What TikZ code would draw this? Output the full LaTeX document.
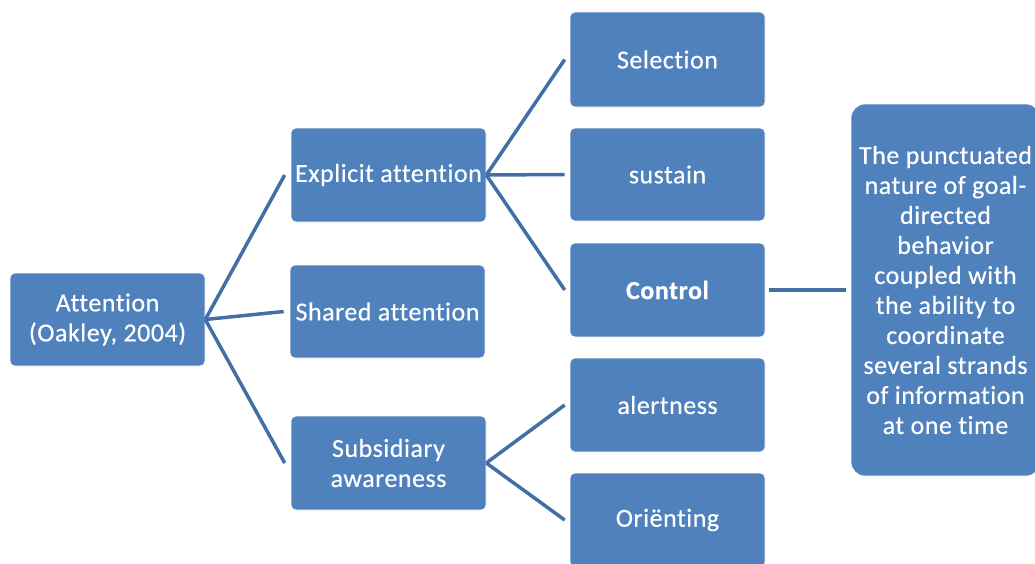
\documentclass[tikz,border=0pt]{standalone}
\usepackage{fontspec}
\setmainfont{Carlito}[Ligatures=NoCommon, LetterSpace=2, UprightFeatures={FakeBold=0.4}, BoldFeatures={FakeBold=0.6}]
\definecolor{boxblue}{HTML}{4F81BD}
\definecolor{lineblue}{HTML}{4270A6}
\begin{document}
\begin{tikzpicture}[x=1pt,y=-1pt,
  box/.style={draw=white, line width=0.6pt, fill=boxblue, rounded corners=5pt, minimum width=195pt, inner sep=0pt,
    text=white, align=center, font=\fontsize{26}{30}\selectfont},
  conn/.style={draw=lineblue, line width=3.5pt}]
\useasboundingbox (0,0) rectangle (1035,563);
\node[box, minimum height=93pt] (att) at (107.5,319.5) {Attention\\(Oakley, 2004)};
\node[box, minimum height=94pt] (exp) at (388.5,175) {Explicit attention};
\node[box, minimum height=93pt] (sha) at (387.5,311.5) {Shared attention};
\node[box, minimum height=94pt] (sub) at (388.5,463) {Subsidiary\\awareness};
\node[box, minimum height=95pt] (sel) at (667.5,59.5) {Selection};
\node[box, minimum height=93pt] (sus) at (667.5,174.5) {sustain};
\node[box, minimum height=94pt] (con) at (667.5,290) {\bfseries Control};
\node[box, minimum height=94pt] (ale) at (667.5,405) {alertness};
\node[box, minimum height=94pt] (ori) at (667.5,520) {Oriënting};
\node[box, minimum width=189pt, minimum height=372pt, rounded corners=14pt] (txt) at (945.5,290)
  {The punctuated\\nature of goal-\\directed\\behavior\\coupled with\\the ability to\\coordinate\\several strands\\of information\\at one time};
\draw[conn] (att.east) -- ([xshift=-6pt]exp.west);
\draw[conn] (att.east) -- ([xshift=-6pt]sha.west);
\draw[conn] (att.east) -- ([xshift=-6pt]sub.west);
\draw[conn] (exp.east) -- ([xshift=-5pt]sel.west);
\draw[conn] (exp.east) -- ([xshift=-5pt]sus.west);
\draw[conn] (exp.east) -- ([xshift=-5pt]con.west);
\draw[conn] (sub.east) -- ([xshift=-5pt]ale.west);
\draw[conn] (sub.east) -- ([xshift=-5pt]ori.west);
\draw[conn] ([xshift=4pt]con.east) -- ([xshift=-5pt]txt.west);
\end{tikzpicture}
\end{document}
